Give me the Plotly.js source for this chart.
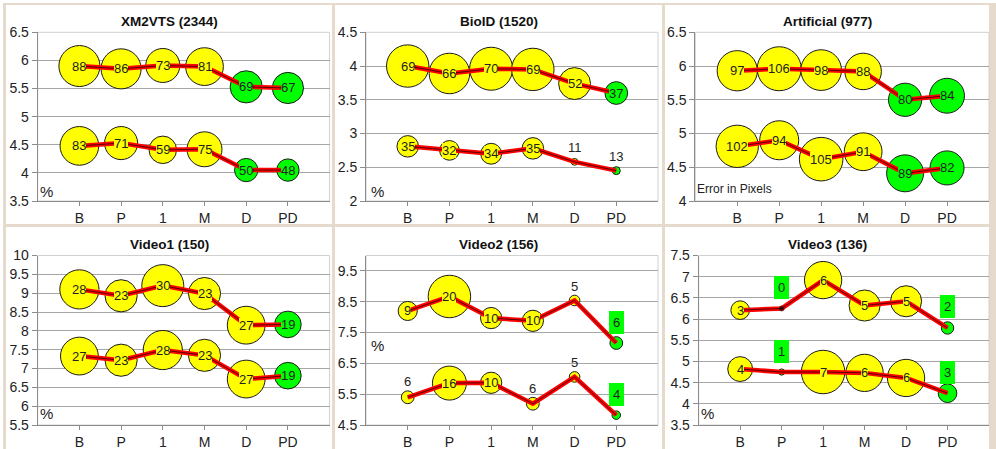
<!DOCTYPE html>
<html><head><meta charset="utf-8">
<script src="https://cdn.plot.ly/plotly-3.0.1.min.js"></script>
<style>html,body{margin:0;padding:0;background:#fff;}#chart{width:996px;height:449px;}</style>
</head><body><div id="chart"></div>
<script>
// ---------------- DATA ----------------
const categories = ['B', 'P', '1', 'M', 'D', 'PD'];
const titles = ['XM2VTS (2344)', 'BioID (1520)', 'Artificial (977)', 'Video1 (150)', 'Video2 (156)', 'Video3 (136)'];
const unitLabels = ['%', '%', 'Error in Pixels', '%', '%', '%'];

// y = error (%), size = error in pixels (bubble label)
const xm2vtsUpperY = [5.90, 5.85, 5.91, 5.89, 5.53, 5.51];
const xm2vtsUpperSize = [88, 86, 73, 81, 69, 67];
const xm2vtsLowerY = [4.48, 4.53, 4.41, 4.42, 4.05, 4.05];
const xm2vtsLowerSize = [83, 71, 59, 75, 50, 48];

const bioidUpperY = [4.00, 3.89, 3.96, 3.95, 3.74, 3.60];
const bioidUpperSize = [69, 66, 70, 69, 52, 37];
const bioidLowerY = [2.81, 2.75, 2.70, 2.78, 2.58, 2.45];
const bioidLowerSize = [35, 32, 34, 35, 11, 13];

const artificialUpperY = [5.93, 5.96, 5.94, 5.92, 5.50, 5.56];
const artificialUpperSize = [97, 106, 98, 88, 80, 84];
const artificialLowerY = [4.81, 4.90, 4.62, 4.73, 4.41, 4.49];
const artificialLowerSize = [102, 94, 105, 91, 89, 82];

const video1UpperY = [9.10, 8.93, 9.20, 8.99, 8.15, 8.17];
const video1UpperSize = [28, 23, 30, 23, 27, 19];
const video1LowerY = [7.33, 7.22, 7.49, 7.35, 6.72, 6.81];
const video1LowerSize = [27, 23, 28, 23, 27, 19];

const video2UpperY = [8.20, 8.67, 7.97, 7.88, 8.54, 7.16];
const video2UpperSize = [9, 20, 10, 10, 5, 6];
const video2LowerY = [5.40, 5.86, 5.87, 5.19, 6.06, 4.82];
const video2LowerSize = [6, 16, 10, 6, 5, 4];

const video3UpperY = [6.21, 6.25, 6.92, 6.32, 6.42, 5.79];
const video3UpperSize = [3, 0, 6, 5, 5, 2];
const video3LowerY = [4.82, 4.75, 4.75, 4.73, 4.61, 4.25];
const video3LowerSize = [4, 1, 7, 6, 6, 3];

const yRanges = [[3.5, 6.5], [2, 4.5], [4, 6.5], [5.5, 10], [4.5, 10], [3.5, 7.5]];
const yTick0 = [3.5, 2, 4, 5.5, 4.5, 3.5];
const yDtick = [0.5, 0.5, 0.5, 0.5, 1, 0.5];

// ---------------- STYLE ----------------
const W = 996, H = 449;
const FONT = 'Liberation Sans, Arial, sans-serif';
const YELLOW = '#ffff00', GREEN = '#00ff00';
const plotBoxes = [ // left, right, top, bottom (px)
  [37.7, 329.6, 32.3, 201], [366, 658, 32.3, 201], [695.3, 989, 32.3, 201],
  [37.7, 329.6, 255.5, 425], [366, 658, 255.5, 425], [698.7, 989, 255.5, 425]];
const panelBoxes = [
  [6, 332, 5, 224], [335, 662, 5, 224], [665, 989, 5, 224],
  [6, 332, 227, 449], [335, 662, 227, 449], [665, 989, 227, 449]];
const maxDiam = [41, 43, 44, 42, 42.5, 43.5];
const titleY = [21.5, 21, 21, 244, 245, 245];
const unitPos = [[46.7, 191], [377.7, 191], [695, 189.3], [46.7, 413.3], [377.7, 345], [707.3, 413.3]];

const G = 1, Y = 0;
const panels = [
  {series: [
    {y: xm2vtsUpperY, s: xm2vtsUpperSize, green: [Y,Y,Y,Y,G,G], lab: ['in','in','in','in','in','in']},
    {y: xm2vtsLowerY, s: xm2vtsLowerSize, green: [Y,Y,Y,Y,G,G], lab: ['in','in','in','in','in','in']}]},
  {series: [
    {y: bioidUpperY, s: bioidUpperSize, green: [Y,Y,Y,Y,Y,G], lab: ['in','in','in','in','in','in']},
    {y: bioidLowerY, s: bioidLowerSize, green: [Y,Y,Y,Y,Y,G], lab: ['in','in','in','in','above','above']}]},
  {series: [
    {y: artificialUpperY, s: artificialUpperSize, green: [Y,Y,Y,Y,G,G], lab: ['in','in','in','in','in','in']},
    {y: artificialLowerY, s: artificialLowerSize, green: [Y,Y,Y,Y,G,G], lab: ['in','in','in','in','in','in']}]},
  {series: [
    {y: video1UpperY, s: video1UpperSize, green: [Y,Y,Y,Y,Y,G], lab: ['in','in','in','in','in','in']},
    {y: video1LowerY, s: video1LowerSize, green: [Y,Y,Y,Y,Y,G], lab: ['in','in','in','in','in','in']}]},
  {series: [
    {y: video2UpperY, s: video2UpperSize, green: [Y,Y,Y,Y,Y,G], lab: ['in','in','in','in','above','box']},
    {y: video2LowerY, s: video2LowerSize, green: [Y,Y,Y,Y,Y,G], lab: ['above','in','in','above','above','box']}]},
  {series: [
    {y: video3UpperY, s: video3UpperSize, green: [Y,Y,Y,Y,Y,G], lab: ['in','box','in','in','in','box']},
    {y: video3LowerY, s: video3LowerSize, green: [Y,G,Y,Y,Y,G], lab: ['in','box','in','in','in','box']}]}
];

const xs = categories.map((c, i) => i + 1);
const traces = [];
const annotations = [];
const shapes = [];
const layout = {
  width: W, height: H, margin: {l: 0, r: 0, t: 0, b: 0},
  paper_bgcolor: '#ffffff', plot_bgcolor: 'rgba(0,0,0,0)',
  showlegend: false, font: {family: FONT, color: '#222'},
  annotations: annotations, shapes: shapes
};

const px = v => v / W;
const py = v => 1 - v / H;

// background frame
shapes.push({type: 'rect', xref: 'paper', yref: 'paper', x0: px(3), x1: 1, y0: 0, y1: py(3),
  fillcolor: '#e6dacd', line: {width: 0}, layer: 'below'});
panelBoxes.forEach(b => shapes.push({type: 'rect', xref: 'paper', yref: 'paper',
  x0: px(b[0]), x1: px(b[1]), y0: py(b[3]), y1: py(b[2]),
  fillcolor: '#ffffff', line: {width: 0}, layer: 'below'}));

panels.forEach((p, k) => {
  const n = k + 1;
  const xa = 'x' + (n === 1 ? '' : n), ya = 'y' + (n === 1 ? '' : n);
  const box = plotBoxes[k];
  layout['xaxis' + (n === 1 ? '' : n)] = {
    domain: [px(box[0]), px(box[1])], anchor: ya, range: [0, 7],
    tickvals: xs, ticktext: categories, showgrid: false, zeroline: false,
    showline: true, linecolor: '#8c8c8c', linewidth: 1,
    ticks: 'outside', ticklen: 4, tickcolor: '#8c8c8c',
    tickfont: {size: 14, color: '#222', family: FONT}, fixedrange: true
  };
  layout['yaxis' + (n === 1 ? '' : n)] = {
    domain: [py(box[3]), py(box[2])], anchor: xa, range: yRanges[k],
    tick0: yTick0[k], dtick: yDtick[k], showgrid: true, gridcolor: '#a6a6a6', gridwidth: 1,
    zeroline: false, showline: true, linecolor: '#8c8c8c', linewidth: 1,
    ticks: 'outside', ticklen: 5, tickcolor: '#8c8c8c',
    tickfont: {size: 14, color: '#222', family: FONT}, fixedrange: true
  };
  shapes.push({type: 'rect', xref: xa + ' domain', yref: ya + ' domain', x0: 0, x1: 1, y0: 0, y1: 1,
    line: {color: '#d0d0d0', width: 1}, layer: 'below'});

  const allS = p.series.flatMap(s => s.s);
  const sizeref = Math.max(...allS) / maxDiam[k];

  p.series.forEach(s => {
    traces.push({type: 'scatter', mode: 'markers', x: xs, y: s.y, xaxis: xa, yaxis: ya,
      marker: {size: s.s, sizemode: 'diameter', sizeref: sizeref, opacity: 1,
        color: s.green.map(g => g ? GREEN : YELLOW),
        line: {color: '#1a1a1a', width: 1}}, hoverinfo: 'skip'});
  });
  p.series.forEach(s => {
    traces.push({type: 'scatter', mode: 'lines', x: xs, y: s.y, xaxis: xa, yaxis: ya,
      line: {color: '#ff0000', width: 4.5}, hoverinfo: 'skip'});
    traces.push({type: 'scatter', mode: 'lines+markers', x: xs, y: s.y, xaxis: xa, yaxis: ya,
      line: {color: '#5a0000', width: 1},
      marker: {size: s.s.map(v => v === 0 ? 5 : 0), color: '#000'}, hoverinfo: 'skip'});
    s.lab.forEach((m, i) => {
      const r = s.s[i] / sizeref / 2;
      const a = {xref: xa, yref: ya, x: xs[i], y: s.y[i], text: String(s.s[i]), showarrow: false,
        xanchor: 'center', yanchor: 'middle', font: {size: 13, color: '#222', family: FONT}};
      if (m === 'in') {
        a.bgcolor = s.green[i] ? GREEN : YELLOW; a.borderpad = 0; a.borderwidth = 0;
      } else if (m === 'above') {
        a.yshift = Math.max(14, r + 9);
      } else {
        a.yshift = 21; a.bgcolor = GREEN; a.bordercolor = GREEN; a.borderwidth = 1; a.borderpad = 3;
      }
      annotations.push(a);
    });
  });

  const pb = panelBoxes[k];
  annotations.push({xref: 'paper', yref: 'paper', x: px((pb[0] + pb[1]) / 2), y: py(titleY[k]),
    text: titles[k], showarrow: false, xanchor: 'center', yanchor: 'middle',
    font: {size: 13.5, color: '#111', family: FONT, weight: 'bold'}});
  const up = unitPos[k];
  if (unitLabels[k] === '%') {
    annotations.push({xref: 'paper', yref: 'paper', x: px(up[0]), y: py(up[1]), text: '%',
      showarrow: false, xanchor: 'center', yanchor: 'middle', font: {size: 15, color: '#222', family: FONT}});
  } else {
    annotations.push({xref: 'paper', yref: 'paper', x: px(up[0]), y: py(up[1]), text: unitLabels[k],
      showarrow: false, xanchor: 'left', yanchor: 'middle', font: {size: 12, color: '#222', family: FONT}});
  }
});

Plotly.newPlot('chart', traces, layout, {staticPlot: true, displayModeBar: false});
</script>
</body></html>
